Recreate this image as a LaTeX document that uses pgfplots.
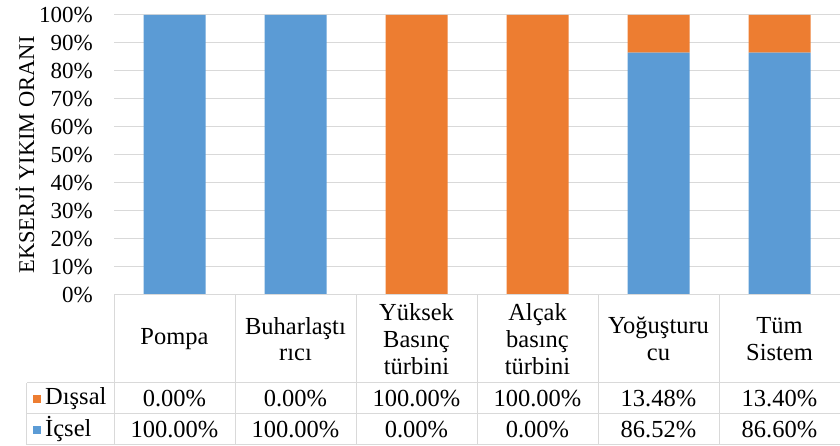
\documentclass[border=0pt]{standalone}
\usepackage{pgfplots}
\pgfplotsset{compat=1.18}
\usepackage{fontspec}
\setmainfont{Liberation Serif}
\definecolor{icsel}{HTML}{5B9BD5}
\definecolor{dissal}{HTML}{ED7D31}
\definecolor{gl}{HTML}{D9D9D9}

\begin{document}
\begin{tikzpicture}[font=\fontsize{24.5}{26.7}\selectfont]
\begin{axis}[
    at={(0,0)}, anchor=south west,
    width=726pt, height=280pt, scale only axis,
    ybar stacked, bar width=62pt,
    xmin=-0.5, xmax=5.5, ymin=0, ymax=100,
    xtick={0,...,5},
    xticklabels={Pompa, Buharlaştı\\rıcı, Yüksek\\Basınç\\türbini, Alçak\\basınç\\türbini, Yoğuşturu\\cu, Tüm\\Sistem},
    xticklabel style={anchor=center, yshift=-44pt, align=center},
    ytick={0,10,...,100},
    yticklabels={0\%,10\%,20\%,30\%,40\%,50\%,60\%,70\%,80\%,90\%,100\%},
    yticklabel style={anchor=east, inner sep=0pt, xshift=-21pt, font=\fontsize{23}{26}\selectfont},
    major tick length=0pt,
    ymajorgrids, grid style={gl, line width=1pt},
    axis line style={draw=none},
    clip=false,
]
\addplot[fill=icsel, draw=none] coordinates {(0,100) (1,100) (2,0) (3,0) (4,86.52) (5,86.60)};
\addplot[fill=dissal, draw=none] coordinates {(0,0) (1,0) (2,100) (3,100) (4,13.48) (5,13.40)};
\end{axis}

% data table
\begin{scope}[gl, line width=1pt]
  \draw (0,0) -- (726pt,0);
  \foreach \i in {0,...,5} \draw (\i*121pt,0) -- (\i*121pt,-150pt);
  \draw (-87pt,-88pt) -- (726pt,-88pt);
  \draw (-87pt,-119pt) -- (726pt,-119pt);
  \draw (-87pt,-150pt) -- (726pt,-150pt);
  \draw (-87pt,-88pt) -- (-87pt,-150pt);
\end{scope}

\foreach \v [count=\i from 0] in {0.00\%,0.00\%,100.00\%,100.00\%,13.48\%,13.40\%}
  \node at (\i*121pt+60.5pt,-103.5pt) {\v};
\foreach \v [count=\i from 0] in {100.00\%,100.00\%,0.00\%,0.00\%,86.52\%,86.60\%}
  \node at (\i*121pt+60.5pt,-134.5pt) {\v};

\fill[dissal] (-81pt,-108pt) rectangle (-73pt,-100pt);
\node[anchor=west, inner sep=0pt] at (-69pt,-103.5pt) {Dışsal};
\fill[icsel] (-81pt,-139pt) rectangle (-73pt,-131pt);
\node[anchor=west, inner sep=0pt] at (-69pt,-134.5pt) {İçsel};

\node[rotate=90, font=\fontsize{22.5}{26}\selectfont] at (-89pt,140pt) {EKSERJİ YIKIM ORANI};

\pgfresetboundingbox
\path[use as bounding box] (-114pt,-151pt) rectangle (726pt,295pt);
\end{tikzpicture}
\end{document}
